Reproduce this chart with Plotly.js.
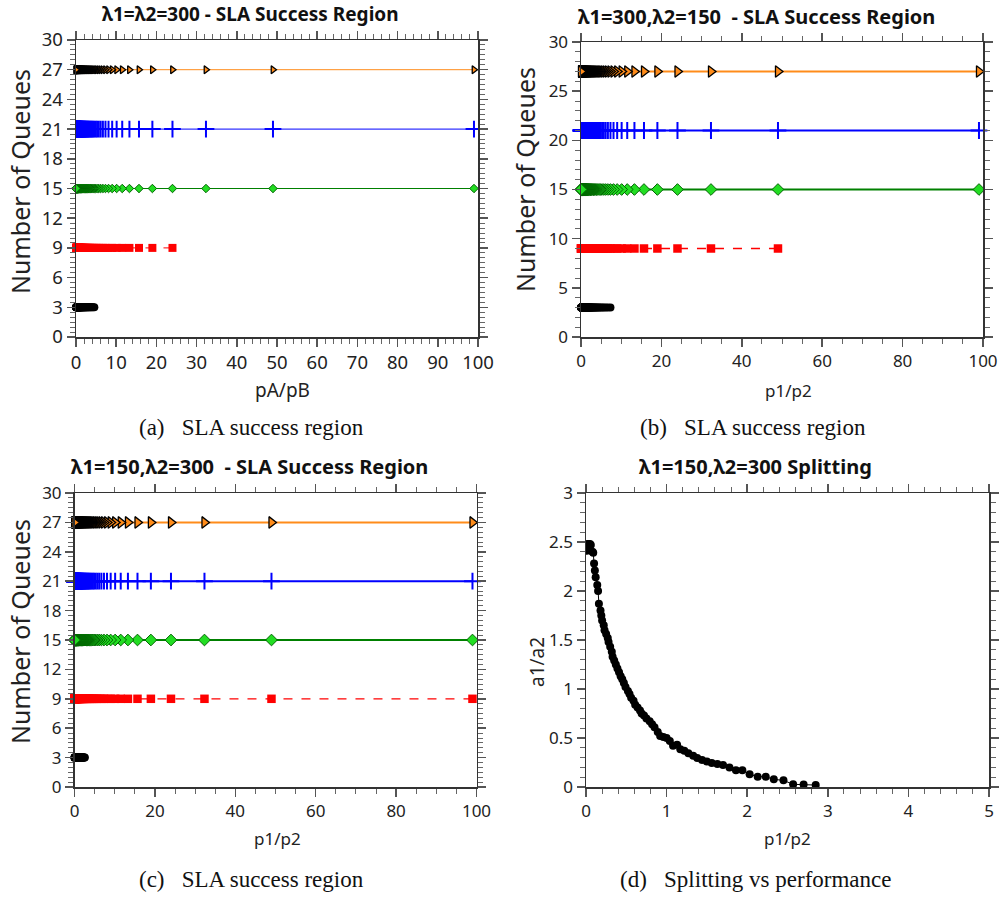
<!DOCTYPE html>
<html>
<head>
<meta charset="utf-8">
<script src="https://cdn.plot.ly/plotly-3.0.1.min.js"></script>
<style>html,body{margin:0;padding:0;background:#fff;}#chart{width:1005px;height:898px;}</style>
</head>
<body>
<div id="chart"></div>
<script>
// ---- data ----
// p1/p2 ratios sampled (p1 = 100-k, p2 = k), read off the axes
const ratio = [99, 49, 32.33, 24, 19, 15.67, 13.29, 11.5, 10.11, 9,
  8.09, 7.33, 6.69, 6.14, 5.67, 5.25, 4.88, 4.56, 4.26, 4,
  3.76, 3.55, 3.35, 3.17, 3, 2.85, 2.7, 2.57, 2.45, 2.33,
  2.23, 2.13, 2.03, 1.94, 1.86, 1.78, 1.7, 1.63, 1.56, 1.5,
  1.44, 1.38, 1.33, 1.27, 1.22, 1.17, 1.13, 1.08, 1.04, 1,
  0.96, 0.92, 0.89, 0.85, 0.82, 0.79, 0.75, 0.72, 0.69, 0.67,
  0.64, 0.61, 0.59, 0.56, 0.54, 0.52, 0.49, 0.47, 0.45, 0.43,
  0.41, 0.39, 0.37, 0.35, 0.33, 0.32, 0.3, 0.28, 0.27, 0.25,
  0.23, 0.22, 0.2, 0.19, 0.18, 0.16, 0.15, 0.14, 0.12, 0.11,
  0.1, 0.09, 0.08, 0.06, 0.05, 0.04, 0.03, 0.02, 0.01];
const queueLevels = [3, 9, 15, 21, 27];
const maxRatioA = [4.56, 24, 99, 99, 99];
const maxRatioB = [7.33, 49, 99, 99, 99];
const maxRatioC = [2.57, 99, 99, 99, 99];

const splitRatio = [2.85, 2.7, 2.57, 2.45, 2.33, 2.23, 2.13, 2.03, 1.94, 1.86,
  1.78, 1.7, 1.63, 1.56, 1.5, 1.44, 1.38, 1.33, 1.27, 1.22,
  1.17, 1.13, 1.08, 1.04, 1, 0.96, 0.92, 0.89, 0.85, 0.82,
  0.79, 0.75, 0.72, 0.69, 0.67, 0.64, 0.61, 0.59, 0.56, 0.54,
  0.52, 0.49, 0.47, 0.45, 0.43, 0.41, 0.39, 0.37, 0.35, 0.33,
  0.32, 0.3, 0.28, 0.27, 0.25, 0.23, 0.22, 0.2, 0.19, 0.18,
  0.16, 0.15, 0.14, 0.12, 0.11, 0.1, 0.09, 0.08, 0.06, 0.05,
  0.04, 0.03, 0.02, 0.01];
const splitA1A2 = [0.02, 0.025, 0.027, 0.068, 0.078, 0.105, 0.105, 0.13, 0.17, 0.17,
  0.2, 0.225, 0.235, 0.245, 0.26, 0.275, 0.295, 0.32, 0.345, 0.37,
  0.385, 0.43, 0.42, 0.47, 0.5, 0.51, 0.52, 0.56, 0.61, 0.64,
  0.67, 0.7, 0.73, 0.75, 0.78, 0.81, 0.84, 0.88, 0.91, 0.95,
  0.98, 1.02, 1.06, 1.1, 1.13, 1.17, 1.21, 1.25, 1.29, 1.33,
  1.38, 1.43, 1.48, 1.52, 1.56, 1.6, 1.65, 1.7, 1.75, 1.8,
  1.87, 2.0, 2.06, 2.14, 2.21, 2.28, 2.39, 2.4, 2.47, 2.48,
  2.47, 2.48, 2.48, 2.41];

const panelTitles = ['λ1=λ2=300 - SLA Success Region', 'λ1=300,λ2=150&nbsp; - SLA Success Region',
  'λ1=150,λ2=300&nbsp; - SLA Success Region', 'λ1=150,λ2=300 Splitting'];
const captions = ['(a)&nbsp;&nbsp; SLA success region', '(b)&nbsp;&nbsp; SLA success region',
  '(c)&nbsp;&nbsp; SLA success region', '(d)&nbsp;&nbsp; Splitting vs performance'];
const xTitles = ['pA/pB', 'p1/p2', 'p1/p2', 'p1/p2'];
const yTitles = ['Number of Queues', 'Number of Queues', 'Number of Queues', 'a1/a2'];

// ---- styling ----
const W = 1005, H = 898;
const sans = 'Noto Sans, DejaVu Sans, sans-serif';
const serif = 'Liberation Serif, Times New Roman, serif';

function styles(big) {
  return {
    3: {mode: 'markers', marker: {symbol: 'circle', size: 8, color: '#000'}},
    9: {mode: 'lines+markers', line: {color: '#ff0000', width: big ? 1.3 : 1, dash: 'dash'},
        marker: {symbol: 'square', size: big ? 8.5 : 8, color: '#ff0000'}},
    15: {mode: 'lines+markers', line: {color: '#008000', width: big ? 2 : 1.2},
        marker: {symbol: 'diamond', size: big ? 9 : 6.5, color: '#22dd22', line: {color: '#006400', width: 1}}},
    21: {mode: 'lines+markers', line: {color: '#0000ff', width: big ? 2 : 1},
        marker: {symbol: 'cross-thin-open', size: 12, color: '#0000ff', line: {color: '#0000ff', width: 2}}},
    27: {mode: 'lines+markers', line: {color: '#ff8c1a', width: big ? 2 : 1},
        marker: {symbol: 'triangle-right', size: big ? 10 : 7, color: '#ff8c1a', line: {color: '#000', width: 1.3}}}
  };
}

const traces = [];
function addPanel(maxR, xa, ya, big) {
  const st = styles(big);
  queueLevels.forEach((q, i) => {
    const xs = ratio.filter(r => r <= maxR[i]);
    const ys = xs.map(() => q);
    traces.push(Object.assign({type: 'scatter', x: xs, y: ys, xaxis: xa, yaxis: ya,
      showlegend: false, hoverinfo: 'x+y', cliponaxis: false}, JSON.parse(JSON.stringify(st[q]))));
  });
}
addPanel(maxRatioA, 'x', 'y', false);
addPanel(maxRatioB, 'x2', 'y2', true);
addPanel(maxRatioC, 'x3', 'y3', true);
traces.push({type: 'scatter', mode: 'lines+markers', x: splitRatio, y: splitA1A2, xaxis: 'x4', yaxis: 'y4',
  showlegend: false, line: {color: '#000', width: 1}, marker: {symbol: 'circle', size: 8, color: '#000'}});

function axis(px0, px1, horizontal, range, dtick, minorDtick, fsize) {
  const dom = horizontal ? [px0 / W, px1 / W] : [1 - px1 / H, 1 - px0 / H];
  return {
    domain: dom, range: range, dtick: dtick, tick0: 0, autorange: false,
    showline: true, linecolor: '#333', linewidth: 1.5, mirror: 'ticks',
    ticks: 'outside', ticklen: 8, tickwidth: 1.5, tickcolor: '#555',
    minor: {dtick: minorDtick, tick0: 0, ticks: 'outside', ticklen: 5, tickwidth: 1, tickcolor: '#666', showgrid: false},
    showgrid: false, zeroline: false, fixedrange: true,
    tickfont: {family: sans, size: fsize, color: '#222'}
  };
}

const layout = {
  width: W, height: H, margin: {l: 0, r: 0, t: 0, b: 0},
  paper_bgcolor: '#fff', plot_bgcolor: '#fff', showlegend: false,
  xaxis: Object.assign(axis(76, 478, true, [0, 100], 10, 2, 18.5), {anchor: 'y'}),
  yaxis: Object.assign(axis(40, 337, false, [0, 30], 3, 0.5, 18.5), {anchor: 'x'}),
  xaxis2: Object.assign(axis(581, 983, true, [0, 100], 20, 5, 17), {anchor: 'y2'}),
  yaxis2: Object.assign(axis(42, 337, false, [0, 30], 5, 1, 17), {anchor: 'x2'}),
  xaxis3: Object.assign(axis(74.5, 476.5, true, [0, 100], 20, 5, 17), {anchor: 'y3'}),
  yaxis3: Object.assign(axis(493, 787, false, [0, 30], 3, 0.5, 17), {anchor: 'x3'}),
  xaxis4: Object.assign(axis(586, 989, true, [0, 5], 1, 0.2, 17), {anchor: 'y4'}),
  yaxis4: Object.assign(axis(493, 787, false, [0, 3], 0.5, 0.1, 17), {anchor: 'x4'}),
  annotations: []
};

function ann(text, px, py, font, opts) {
  layout.annotations.push(Object.assign({
    text: text, x: px / W, y: 1 - py / H, xref: 'paper', yref: 'paper',
    xanchor: 'center', yanchor: 'middle', showarrow: false, font: font
  }, opts || {}));
}
// panel titles
[[250, 14, 19], [756, 16, 20], [249, 466, 20], [755, 466, 20]].forEach((p, i) =>
  ann('<b>' + panelTitles[i] + '</b>', p[0], p[1], {family: sans, size: p[2], color: '#111'}));
// x titles
[[282, 390, 19], [788, 390, 17], [277, 838, 17], [787, 838, 17]].forEach((p, i) =>
  ann(xTitles[i], p[0], p[1], {family: sans, size: p[2], color: '#222'}));
// y titles
[[20, 182, 25], [525, 180, 25], [20, 632, 25], [537, 662, 19]].forEach((p, i) =>
  ann(yTitles[i], p[0], p[1], {family: sans, size: p[2], color: '#222'}, {textangle: -90}));
// captions
[[251, 427], [753, 427], [251, 879], [755, 879]].forEach((p, i) =>
  ann(captions[i], p[0], p[1], {family: serif, size: 23, color: '#111'}));

Plotly.newPlot('chart', traces, layout, {staticPlot: true, displayModeBar: false});
</script>
</body>
</html>
